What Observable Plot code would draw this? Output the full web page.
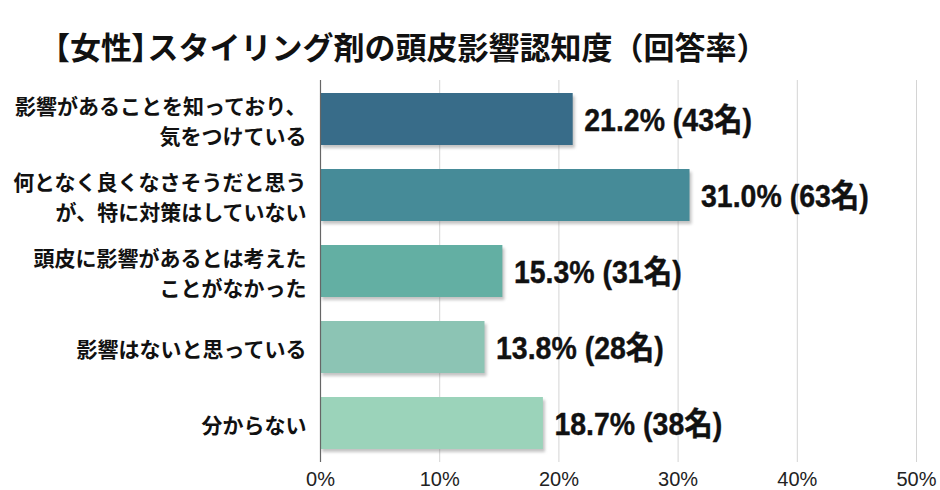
<!DOCTYPE html>
<html>
<head>
<meta charset="utf-8">
<script src="https://cdn.jsdelivr.net/npm/d3@7"></script>
<script src="https://cdn.jsdelivr.net/npm/@observablehq/plot@0.6"></script>
<style>
  html, body { margin: 0; padding: 0; background: #fff; }
  #title {
    box-sizing: border-box;
    height: 72px;
    padding: 30px 0 0 39px;
    font-family: "Noto Sans CJK JP", sans-serif;
    font-weight: 700;
    font-size: 31px;
    line-height: 31px;
    color: #111;
    white-space: nowrap;
  }
  #title .p { font-feature-settings: "palt"; }
</style>
</head>
<body>
<div id="title">【女性<span class="p">】</span>スタイリング剤の頭皮影響認知度（回答率）</div>
<div id="chart"></div>
<script>
const categories = [
  "影響があることを知っており、\n気をつけている",
  "何となく良くなさそうだと思う\nが、特に対策はしていない",
  "頭皮に影響があるとは考えた\nことがなかった",
  "影響はないと思っている",
  "分からない"
];
const percents = [21.2, 31.0, 15.3, 13.8, 18.7];
const counts = [43, 63, 31, 28, 38];
const xTicks = [0, 10, 20, 30, 40, 50];
const barColors = ["#386c89", "#468b98", "#63afa3", "#8cc4b4", "#9bd3ba"];

const data = categories.map((c, i) => ({
  label: c,
  pct: percents[i],
  n: counts[i],
  text: `${percents[i].toFixed(1)}% (${counts[i]}名)`
}));

const chart = Plot.plot({
  width: 940,
  height: 418,
  marginLeft: 320,
  marginRight: 24,
  marginTop: 8,
  marginBottom: 28,
  style: { background: "#fff", overflow: "visible" },
  x: { domain: [0, 50], ticks: xTicks, tickFormat: d => d + "%", label: null },
  y: { domain: categories, paddingInner: 0.313, paddingOuter: 0.148, label: null, axis: null },
  color: { domain: categories, range: barColors },
  marks: [
    Plot.gridX(xTicks.filter(d => d > 0), { stroke: "#d4d4d4", strokeOpacity: 1, strokeWidth: 1 }),
    Plot.axisX({
      ticks: xTicks,
      tickFormat: d => d + "%",
      tickSize: 0,
      tickPadding: 9,
      fontSize: 20,
      fontFamily: "'Liberation Sans', Arial, sans-serif",
      fill: "#222",
      label: null
    }),
    Plot.barX(data, {
      x: "pct", y: "label", fill: "#7a7a7a", fillOpacity: 0.45,
      dx: 2, dy: 3
    }),
    Plot.barX(data, { x: "pct", y: "label", fill: "label" }),
    Plot.ruleX([0], { stroke: "#666", strokeWidth: 1.2 }),
    Plot.text(data, {
      x: 0, y: "label", text: "label",
      textAnchor: "end", dx: -14,
      fontSize: 21, fontWeight: 700, lineHeight: 1.4,
      fontFamily: "'Noto Sans CJK JP', sans-serif",
      fill: "#111"
    }),
    Plot.text(data, {
      x: "pct", y: "label", text: "text",
      textAnchor: "start", dx: 11, dy: 1,
      fontSize: 32, fontWeight: 700,
      fontFamily: "'Liberation Sans', Arial, 'Noto Sans CJK JP', sans-serif",
      fill: "#111",
      stroke: "#111", strokeWidth: 0.4
    })
  ]
});
document.getElementById("chart").appendChild(chart);
const barGroups = chart.querySelectorAll('g[aria-label="bar"]');
if (barGroups.length) barGroups[0].style.filter = "blur(1.5px)";
chart.querySelectorAll("text").forEach(t => {
  if (!/名\)$/.test(t.textContent)) return;
  const L = t.getComputedTextLength();
  if (L > 0) {
    t.setAttribute("textLength", (L * 0.89).toFixed(1));
    t.setAttribute("lengthAdjust", "spacingAndGlyphs");
  }
});
</script>
</body>
</html>
